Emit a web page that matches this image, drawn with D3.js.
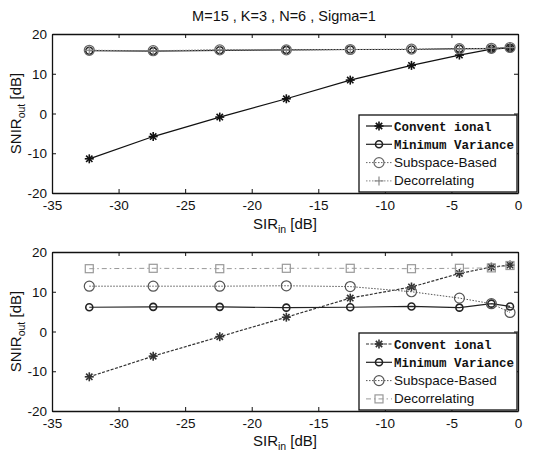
<!DOCTYPE html>
<html>
<head>
<meta charset="utf-8">
<title>SNIR vs SIR</title>
<style>
  html, body { margin: 0; padding: 0; background: #fff; }
  svg text { font-family: "Liberation Sans", Arial, sans-serif; fill: #111; }
  .tick text { font-size: 13.5px; }
  .legend-mono { font-family: "Liberation Mono", "DejaVu Sans Mono", monospace; font-weight: bold; }
</style>
<script src="https://d3js.org/d3.v7.min.js"></script>
</head>
<body>
<svg id="chart" width="540" height="454"></svg>
<script>
// x values (SIR_in, dB)
const sirIn = [-32.2, -27.4, -22.4, -17.4, -12.6, -8.0, -4.4, -2.0, -0.6];
const xTicks = [-35, -30, -25, -20, -15, -10, -5, 0];
const yTicks = [-20, -10, 0, 10, 20];
const legendLabels = ["Convent ional", "Minimum Variance", "Subspace-Based", "Decorrelating"];

// top panel
const topConventional = [-11.4, -5.8, -0.9, 3.7, 8.4, 12.1, 14.7, 16.2, 16.5];
const topMinVar = [15.8, 15.7, 15.9, 16.0, 16.1, 16.1, 16.3, 16.3, 16.5];
const topSubspace = [15.9, 15.8, 16.0, 16.0, 16.1, 16.2, 16.3, 16.4, 16.6];
const topDecorr = [15.9, 15.7, 16.0, 16.0, 16.1, 16.1, 16.2, 16.4, 16.6];

// bottom panel
const botConventional = [-11.4, -6.2, -1.3, 3.6, 8.4, 11.2, 14.6, 16.2, 16.7];
const botMinVar = [6.1, 6.2, 6.2, 6.0, 6.1, 6.3, 6.0, 7.0, 6.3];
const botSubspace = [11.4, 11.4, 11.4, 11.5, 11.3, 10.0, 8.4, 7.0, 4.8];
const botDecorr = [15.8, 15.9, 15.8, 15.9, 15.9, 15.8, 15.9, 16.0, 16.6];

const svg = d3.select("#chart");
const left = 52, right = 518;
const hyphen = d => String(d);  // plain hyphen minus, like MATLAB

svg.append("text")
  .attr("x", 284).attr("y", 21)
  .attr("text-anchor", "middle")
  .attr("font-size", "14.5px")
  .text("M=15 , K=3 , N=6 , Sigma=1");

function marker(g, type, cx, cy, color) {
  const m = g.append("g").attr("transform", `translate(${cx},${cy})`)
    .attr("fill", "none").attr("stroke", color).attr("stroke-width", 1.2);
  if (type === "star") {
    [0, 45, 90, 135].forEach(a => {
      const r = 4.5, t = a * Math.PI / 180;
      m.append("line").attr("x1", -r * Math.cos(t)).attr("y1", -r * Math.sin(t))
        .attr("x2", r * Math.cos(t)).attr("y2", r * Math.sin(t)).attr("stroke-width", 1.6);
    });
  } else if (type === "smallcircle") {
    m.append("circle").attr("r", 3.5).attr("stroke-width", 1.6);
  } else if (type === "circle") {
    m.append("circle").attr("r", 5);
  } else if (type === "plus") {
    m.append("line").attr("x1", -4.5).attr("x2", 4.5);
    m.append("line").attr("y1", -4.5).attr("y2", 4.5);
  } else if (type === "square") {
    m.append("rect").attr("x", -4).attr("y", -4).attr("width", 8).attr("height", 8);
  }
}

function panel(top, bottom, data, styles, legendBox, xLabelY) {
  const x = d3.scaleLinear().domain([-35, 0]).range([left, right]);
  const y = d3.scaleLinear().domain([-20, 20]).range([bottom, top]);
  const g = svg.append("g");

  // axes with inward ticks (box style)
  const xa = g.append("g").attr("transform", `translate(0,${bottom})`)
    .call(d3.axisBottom(x).tickValues(xTicks).tickFormat(hyphen).tickSizeInner(-4).tickSizeOuter(0).tickPadding(10));
  g.append("g").attr("transform", `translate(0,${top})`)
    .call(d3.axisTop(x).tickValues(xTicks).tickFormat("").tickSizeInner(-4).tickSizeOuter(0));
  const ya = g.append("g").attr("transform", `translate(${left},0)`)
    .call(d3.axisLeft(y).tickValues(yTicks).tickFormat(hyphen).tickSizeInner(-4).tickSizeOuter(0).tickPadding(5));
  g.append("g").attr("transform", `translate(${right},0)`)
    .call(d3.axisRight(y).tickValues(yTicks).tickFormat("").tickSizeInner(-4).tickSizeOuter(0));
  g.selectAll(".domain").attr("stroke", "#111").attr("stroke-width", 1.3);
  g.selectAll(".tick line").attr("stroke", "#111");
  xa.selectAll(".tick text").attr("dy", "0.55em");
  ya.selectAll(".tick text").attr("dy", "0.35em");

  const line = d3.line().x((d, i) => x(sirIn[i])).y(d => y(d));
  data.forEach((vals, k) => {
    const s = styles[k];
    g.append("path").datum(vals)
      .attr("d", line).attr("fill", "none")
      .attr("stroke", s.color).attr("stroke-width", s.width)
      .attr("stroke-dasharray", s.dash);
    vals.forEach((v, i) => marker(g, s.marker, x(sirIn[i]), y(v), s.color));
  });

  // legend
  const lg = g.append("g");
  lg.append("rect").attr("x", legendBox.x).attr("y", legendBox.y)
    .attr("width", legendBox.w).attr("height", legendBox.h)
    .attr("fill", "#fff").attr("stroke", "#111").attr("stroke-width", 1.3);
  legendLabels.forEach((lab, k) => {
    const s = styles[k];
    const cy = legendBox.y + 11 + k * 18.3;
    lg.append("line").attr("x1", legendBox.x + 7).attr("x2", legendBox.x + 33)
      .attr("y1", cy).attr("y2", cy)
      .attr("stroke", s.color).attr("stroke-width", s.width).attr("stroke-dasharray", s.dash);
    marker(lg, s.marker, legendBox.x + 20, cy, s.color);
    const t = lg.append("text").attr("x", legendBox.x + 35).attr("y", cy + 4.5)
      .text(lab);
    if (k < 2) t.attr("class", "legend-mono").attr("font-size", "12.5px");
    else t.attr("font-size", "13.5px");
  });

  // axis labels
  const xl = svg.append("text").attr("x", 285).attr("y", xLabelY)
    .attr("text-anchor", "middle").attr("font-size", "15px");
  xl.append("tspan").text("SIR");
  xl.append("tspan").attr("font-size", "10.5px").attr("dy", 4).text("in");
  xl.append("tspan").attr("dy", -4).text(" [dB]");

  const ymid = (top + bottom) / 2;
  const yl = svg.append("text")
    .attr("transform", `translate(21,${ymid}) rotate(-90)`)
    .attr("text-anchor", "middle").attr("font-size", "15px");
  yl.append("tspan").text("SNIR");
  yl.append("tspan").attr("font-size", "10.5px").attr("dy", 4).text("out");
  yl.append("tspan").attr("dy", -4).text(" [dB]");
}

panel(34, 193,
  [topConventional, topMinVar, topSubspace, topDecorr],
  [
    { color: "#111", width: 1.2, dash: null, marker: "star" },
    { color: "#222", width: 1.2, dash: null, marker: "smallcircle" },
    { color: "#666", width: 1, dash: "1.5,1.5", marker: "circle" },
    { color: "#888", width: 1, dash: "1.5,1.5", marker: "plus" }
  ],
  { x: 359, y: 115, w: 158, h: 77 }, 229);

panel(252, 411,
  [botConventional, botMinVar, botSubspace, botDecorr],
  [
    { color: "#333", width: 1.2, dash: "3,1.5", marker: "star" },
    { color: "#222", width: 1.2, dash: null, marker: "smallcircle" },
    { color: "#555", width: 1, dash: "1.5,1.5", marker: "circle" },
    { color: "#999", width: 1, dash: "5,3,1.5,3", marker: "square" }
  ],
  { x: 359, y: 333, w: 158, h: 77 }, 446);
</script>
</body>
</html>
